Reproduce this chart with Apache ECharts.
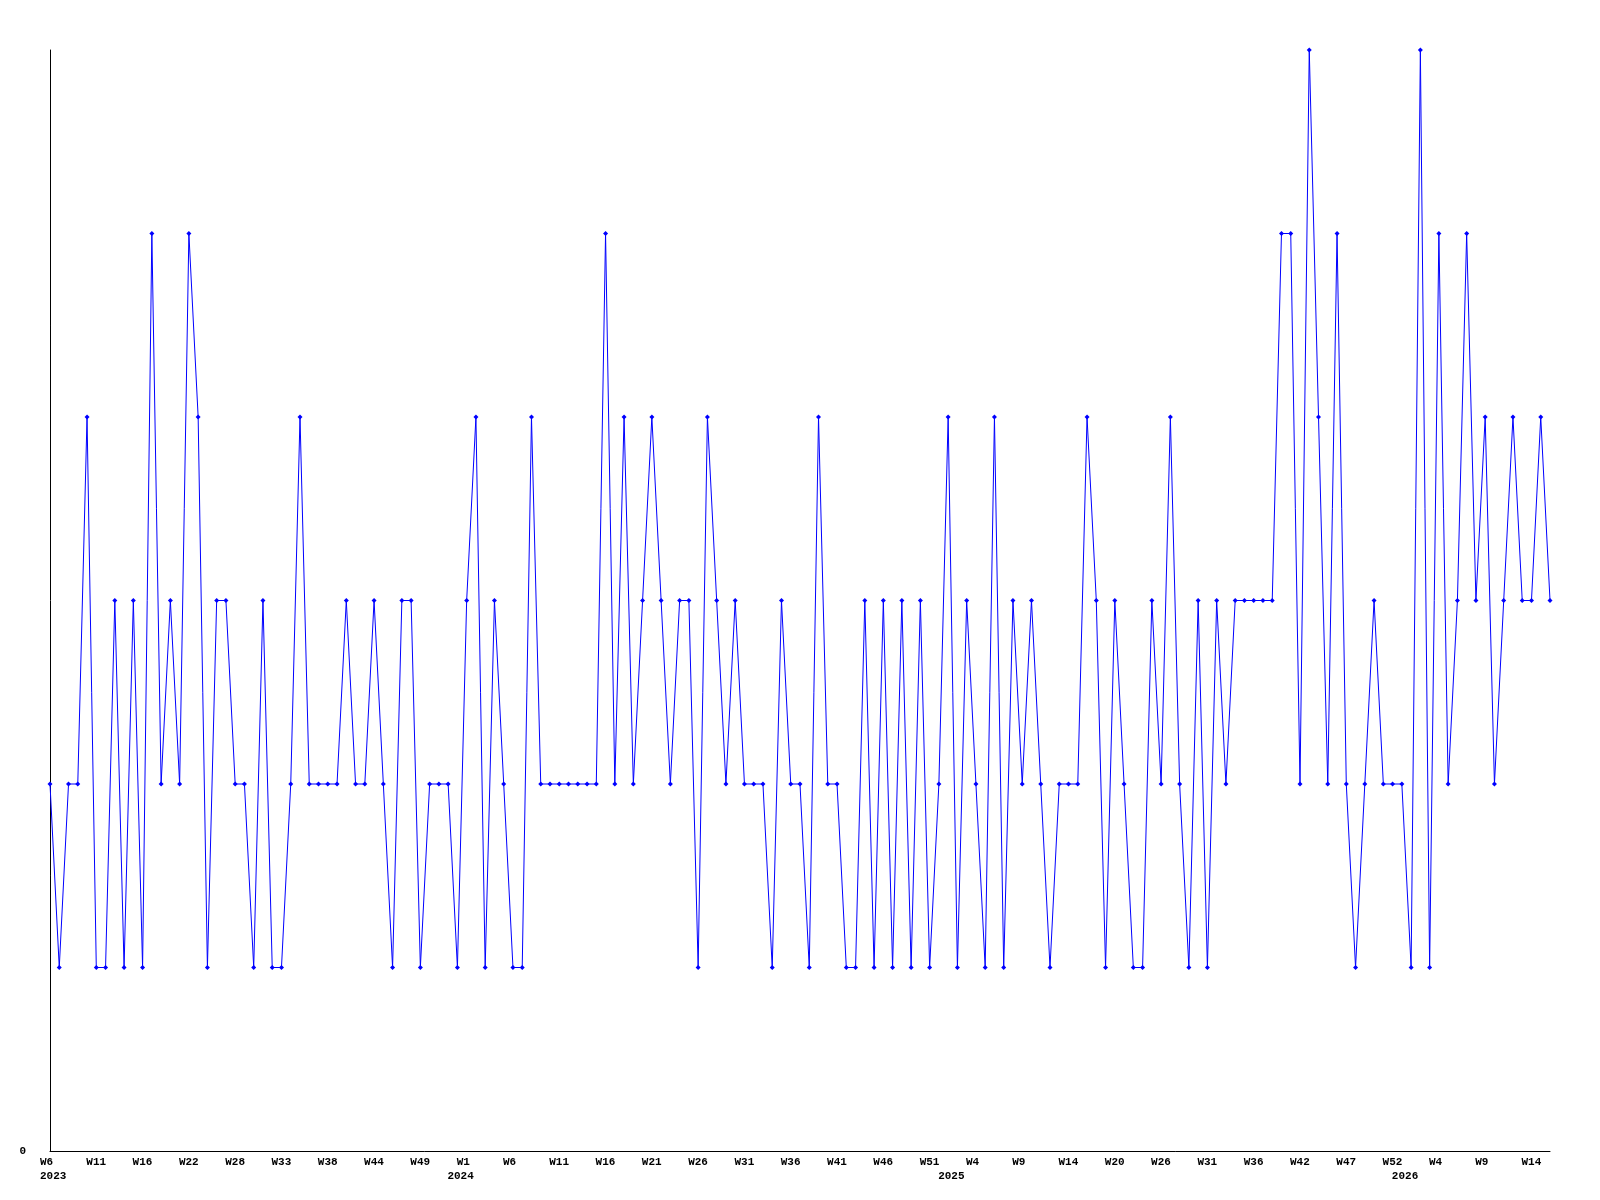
<!DOCTYPE html>
<html>
<head>
<meta charset="utf-8">
<script src="https://cdn.jsdelivr.net/npm/echarts@6/dist/echarts.min.js"></script>
<style>
html,body{margin:0;padding:0;background:#fff;}
#chart{width:1600px;height:1200px;}
</style>
</head>
<body>
<div id="chart"></div>
<script>
// categories: year-week of each point
const weeks = [
 '2023-W06','2023-W07','2023-W08','2023-W09','2023-W10','2023-W11','2023-W12','2023-W13','2023-W14','2023-W15',
 '2023-W16','2023-W17','2023-W18','2023-W19','2023-W20','2023-W22','2023-W23','2023-W24','2023-W25','2023-W26',
 '2023-W28','2023-W29','2023-W30','2023-W31','2023-W32','2023-W33','2023-W34','2023-W35','2023-W36','2023-W37',
 '2023-W38','2023-W39','2023-W40','2023-W41','2023-W42','2023-W44','2023-W45','2023-W46','2023-W47','2023-W48',
 '2023-W49','2023-W50','2023-W51','2023-W52','2024-W00','2024-W01','2024-W02','2024-W03','2024-W04','2024-W05',
 '2024-W06','2024-W07','2024-W08','2024-W09','2024-W10','2024-W11','2024-W12','2024-W13','2024-W14','2024-W15',
 '2024-W16','2024-W17','2024-W18','2024-W19','2024-W20','2024-W21','2024-W22','2024-W23','2024-W24','2024-W25',
 '2024-W26','2024-W27','2024-W28','2024-W29','2024-W30','2024-W31','2024-W32','2024-W33','2024-W34','2024-W35',
 '2024-W36','2024-W37','2024-W38','2024-W39','2024-W40','2024-W41','2024-W42','2024-W43','2024-W44','2024-W45',
 '2024-W46','2024-W47','2024-W48','2024-W49','2024-W50','2024-W51','2024-W52','2025-W01','2025-W02','2025-W03',
 '2025-W04','2025-W05','2025-W06','2025-W07','2025-W08','2025-W09','2025-W10','2025-W11','2025-W12','2025-W13',
 '2025-W14','2025-W15','2025-W16','2025-W17','2025-W18','2025-W20','2025-W21','2025-W22','2025-W23','2025-W24',
 '2025-W26','2025-W27','2025-W28','2025-W29','2025-W30','2025-W31','2025-W32','2025-W33','2025-W34','2025-W35',
 '2025-W36','2025-W37','2025-W38','2025-W39','2025-W40','2025-W42','2025-W43','2025-W44','2025-W45','2025-W46',
 '2025-W47','2025-W48','2025-W49','2025-W50','2025-W51','2025-W52','2026-W00','2026-W01','2026-W02','2026-W03',
 '2026-W04','2026-W05','2026-W06','2026-W07','2026-W08','2026-W09','2026-W10','2026-W11','2026-W12','2026-W13',
 '2026-W14','2026-W15','2026-W16'
];
// series values
const values = [
 2,1,2,2,4,1,1,3,1,3, 1,5,2,3,2,5,4,1,3,3,
 2,2,1,3,1,1,2,4,2,2, 2,2,3,2,2,3,2,1,3,3,
 1,2,2,2,1,3,4,1,3,2, 1,1,4,2,2,2,2,2,2,2,
 5,2,4,2,3,4,3,2,3,3, 1,4,3,2,3,2,2,2,1,3,
 2,2,1,4,2,2,1,1,3,1, 3,1,3,1,3,1,2,4,1,3,
 2,1,4,1,3,2,3,2,1,2, 2,2,4,3,1,3,2,1,1,3,
 2,4,2,1,3,1,3,2,3,3, 3,3,3,5,5,2,6,4,2,5,
 2,1,2,3,2,2,2,1,6,1, 5,2,3,5,3,4,2,3,4,3,
 3,4,3
];
// y tick labels shown
const yTickLabels = ['0'];

const labelFont = {fontFamily:'Liberation Mono', fontWeight:'bold', fontSize:11, color:'#000'};

function isYearStart(i){
  return i === 0 || weeks[i].slice(0,4) !== weeks[i-1].slice(0,4);
}

const chart = echarts.init(document.getElementById('chart'), null, {renderer:'canvas'});
chart.setOption({
  backgroundColor:'#ffffff',
  animation:false,
  grid:{left:50, right:50, top:50, bottom:49, containLabel:false, outerBoundsMode:'none'},
  xAxis:[{
    type:'category', data:weeks, boundaryGap:false,
    axisLine:{show:true, lineStyle:{color:'#000', width:1}},
    axisTick:{show:false}, splitLine:{show:false},
    axisLabel:Object.assign({
      interval:4, align:'left', padding:[0,0,0,-10], margin:6,
      formatter:function(v){ return 'W' + parseInt(v.slice(6),10); }
    }, labelFont)
  },{
    type:'category', data:weeks, boundaryGap:false, position:'bottom',
    axisLine:{show:false}, axisTick:{show:false}, splitLine:{show:false},
    axisLabel:Object.assign({
      interval:function(i){ return isYearStart(i); }, align:'left', padding:[0,0,0,-10], margin:20,
      formatter:function(v){ return v.slice(0,4); }
    }, labelFont)
  }],
  yAxis:{
    type:'value', min:0, max:6, interval:6,
    axisLine:{show:true, lineStyle:{color:'#000', width:1}},
    axisTick:{show:false}, splitLine:{show:false},
    axisLabel:Object.assign({
      margin:24,
      formatter:function(v){ return v === 0 ? yTickLabels[0] : ''; }
    }, labelFont)
  },
  series:[{
    type:'line', data:values, xAxisIndex:0,
    symbol:'diamond', symbolSize:5, showAllSymbol:true,
    lineStyle:{color:'#0000ff', width:1},
    itemStyle:{color:'#0000ff'}
  }]
});
</script>
</body>
</html>
